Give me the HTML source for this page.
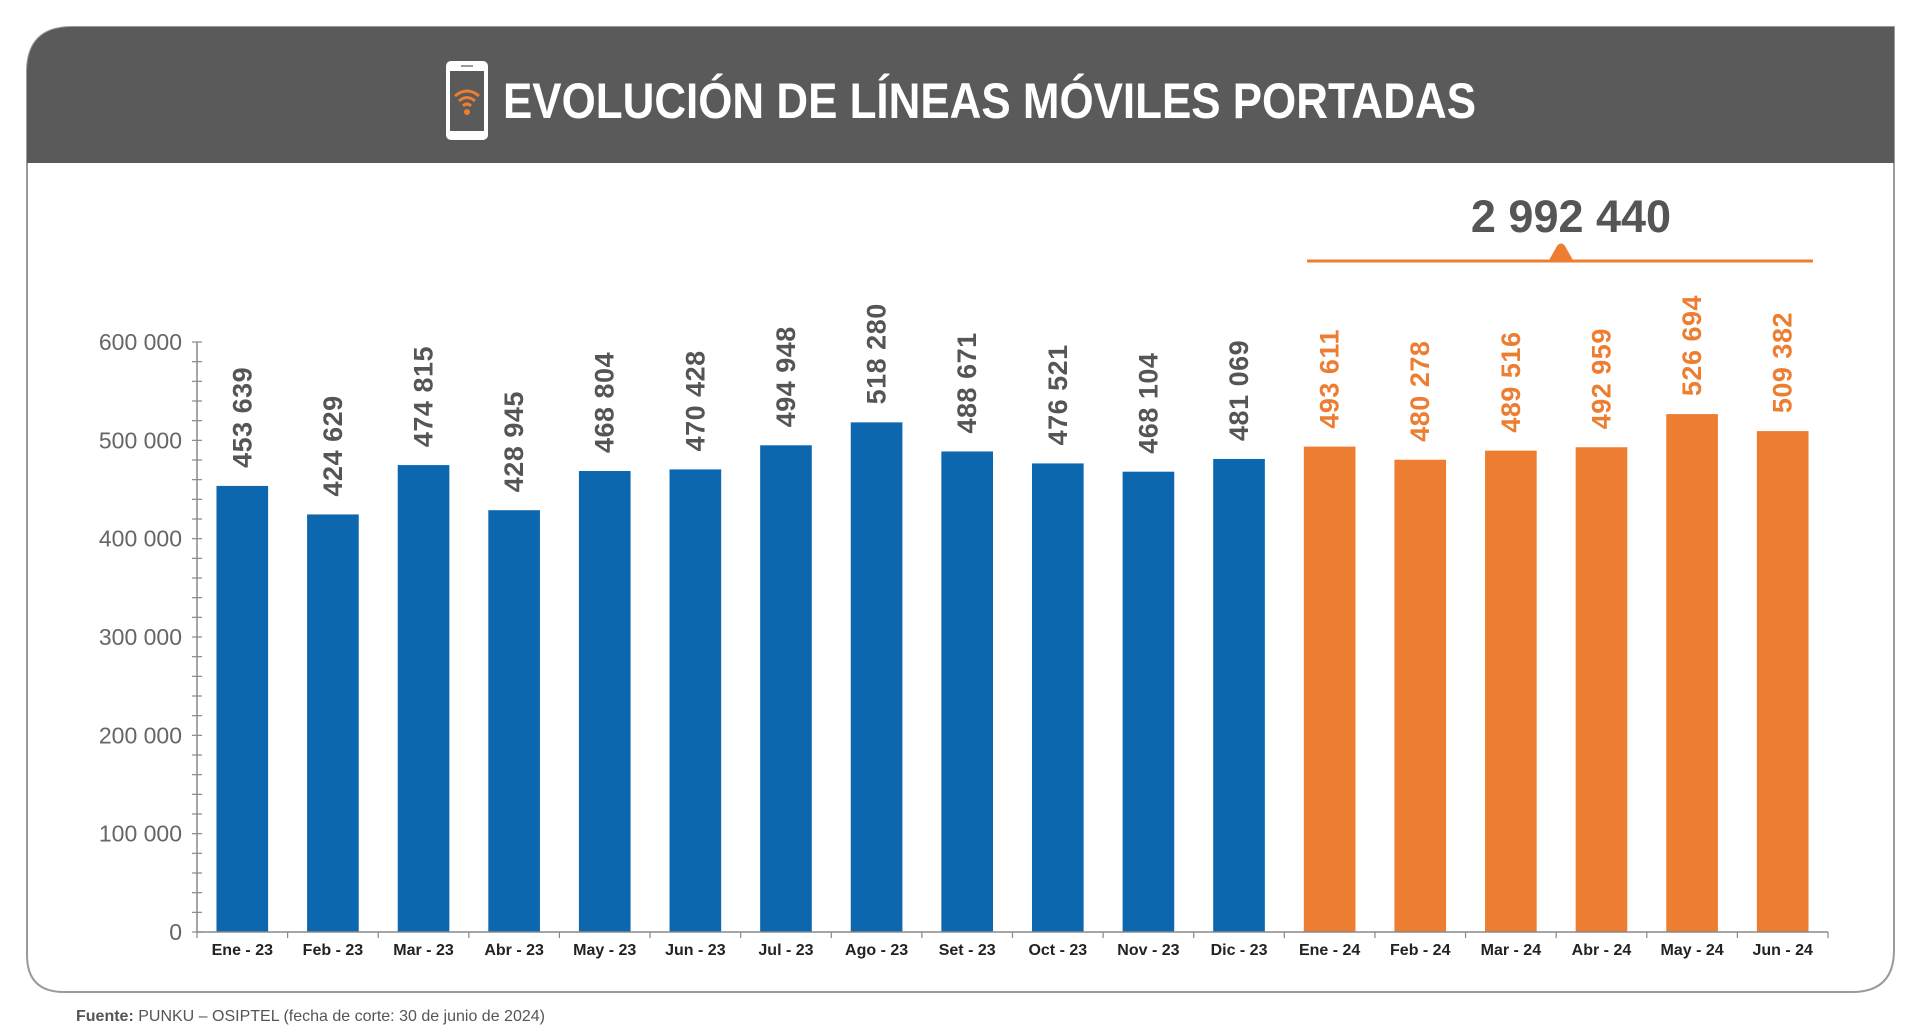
<!DOCTYPE html>
<html><head><meta charset="utf-8"><style>
html,body{margin:0;padding:0;background:#fff;}
svg{display:block;font-family:"Liberation Sans",sans-serif;}
</style></head><body>
<svg id="chart" width="1920" height="1034" viewBox="0 0 1920 1034">
  <path d="M27,955 L27,72 Q27,27 72,27 L1894,27 L1894,950 Q1894,992 1852,992 L64,992 Q27,992 27,955 Z" fill="#fff" stroke="#9a9a9a" stroke-width="2"/>
  <path d="M27,163 L27,72 Q27,27 72,27 L1894,27 L1894,163 Z" fill="#5a5a5a"/>
  <g>
    <rect x="446" y="61" width="42" height="79" rx="5" fill="#fff"/>
    <rect x="450" y="71" width="34" height="60" fill="#5a5a5a"/>
    <rect x="461" y="65" width="12" height="2" fill="#999"/>
    <path d="M455,96 Q467,86 479,96" fill="none" stroke="#ed7d31" stroke-width="3"/>
    <path d="M459,101 Q467,94 475,101" fill="none" stroke="#ed7d31" stroke-width="3"/>
    <path d="M463,106 Q467,102 471,106" fill="none" stroke="#ed7d31" stroke-width="3"/>
    <circle cx="467" cy="112" r="3" fill="#ed7d31"/>
  </g>
  <text x="503" y="118" font-size="50" font-weight="bold" fill="#fff" textLength="973" lengthAdjust="spacingAndGlyphs">EVOLUCIÓN DE LÍNEAS MÓVILES PORTADAS</text>
  <text x="1571" y="232" font-size="45" font-weight="bold" fill="#555" text-anchor="middle">2 992 440</text>
  <line x1="1307" y1="261" x2="1813" y2="261" stroke="#ed7d31" stroke-width="3"/>
  <path d="M1548,262 L1557,246 Q1561,241 1565,246 L1574,262 Z" fill="#ed7d31"/>
  <g id="plot"></g>
  <text x="76" y="1021" font-size="16" fill="#555"><tspan font-weight="bold">Fuente:</tspan> PUNKU – OSIPTEL (fecha de corte: 30 de junio de 2024)</text>
</svg>
<script>
const categories = ["Ene - 23","Feb - 23","Mar - 23","Abr - 23","May - 23","Jun - 23","Jul - 23","Ago - 23","Set - 23","Oct - 23","Nov - 23","Dic - 23","Ene - 24","Feb - 24","Mar - 24","Abr - 24","May - 24","Jun - 24"];
const values = [453639,424629,474815,428945,468804,470428,494948,518280,488671,476521,468104,481069,493611,480278,489516,492959,526694,509382];
const valueLabels = ["453 639","424 629","474 815","428 945","468 804","470 428","494 948","518 280","488 671","476 521","468 104","481 069","493 611","480 278","489 516","492 959","526 694","509 382"];
const yTicks = [0,100000,200000,300000,400000,500000,600000];
const yTickLabels = ["0","100 000","200 000","300 000","400 000","500 000","600 000"];
const highlightStart = 12;

const NS="http://www.w3.org/2000/svg";
const plot=document.getElementById('plot');
const X0=197, X1=1828, Y0=932, Y1=342, YMAX=600000;
const band=(X1-X0)/categories.length;
const y=v=>Y0-(v/YMAX)*(Y0-Y1);
const xc=i=>X0+band*(i+0.5);
function mk(tag,attrs){const e=document.createElementNS(NS,tag);for(const k in attrs)e.setAttribute(k,attrs[k]);plot.appendChild(e);return e;}

const ya=mk('line',{x1:X0,y1:Y1,x2:X0,y2:Y0,stroke:'#888','stroke-width':1.5});


for(let v=0;v<=YMAX;v+=20000){
  const t=mk('line',{x1:X0-5,x2:X0+5,y1:y(v),y2:y(v),stroke:'#888','stroke-width':1.2});
  
  
}
yTicks.forEach((v,i)=>{
  const t=mk('text',{x:182,y:y(v)+8,'font-size':23,fill:'#666','text-anchor':'end'});
  t.textContent=yTickLabels[i];
  
  
});
values.forEach((v,i)=>{
  const hl=i>=highlightStart;
  const w=band*0.57;
  const b=mk('rect',{x:xc(i)-w/2,y:y(v),width:w,height:Y0-y(v),fill:hl?'#ed7d31':'#0d67ae'});
  
  
  const lx=xc(i)+9, ly=y(v)-18;
  const t=mk('text',{x:lx,y:ly,'font-size':27,'font-weight':'bold',fill:hl?'#ed7d31':'#555',transform:`rotate(-90 ${lx} ${ly})`,'letter-spacing':'0.5'});
  t.textContent=valueLabels[i];
  
  
});
const xa=mk('line',{x1:X0,y1:Y0,x2:X1,y2:Y0,stroke:'#888','stroke-width':1.5});


for(let i=0;i<=categories.length;i++){
  const t=mk('line',{x1:X0+band*i,x2:X0+band*i,y1:Y0,y2:Y0+6,stroke:'#888','stroke-width':1.2});
  
  
}
categories.forEach((c,i)=>{
  const t=mk('text',{x:xc(i),y:Y0+23,'font-size':16,'font-weight':'bold',fill:'#222','text-anchor':'middle'});
  t.textContent=c;
  
  
});
</script>
</body></html>
